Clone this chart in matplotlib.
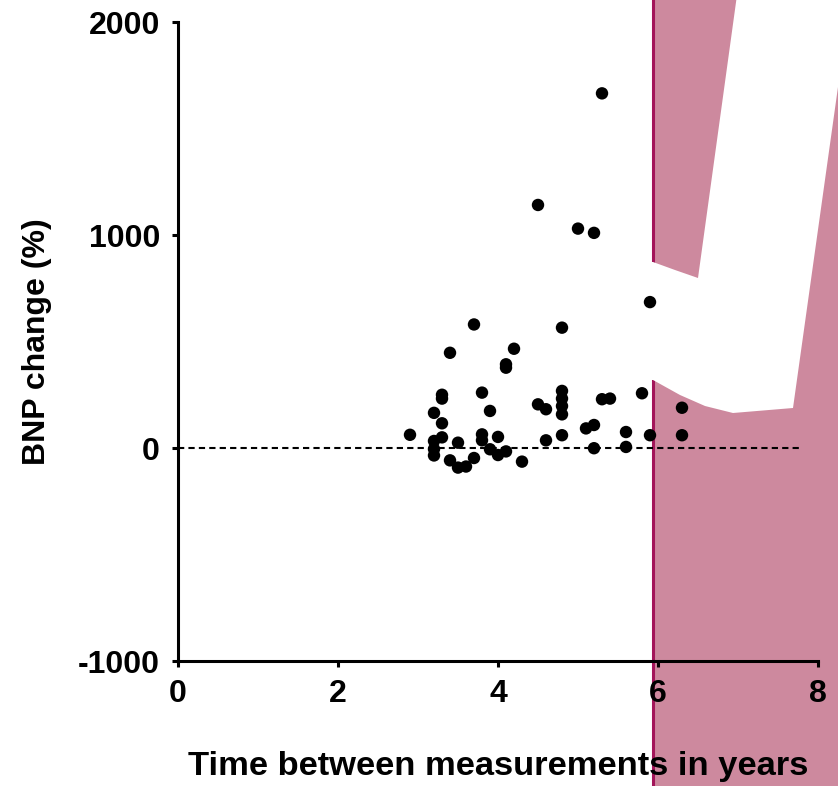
import matplotlib.pyplot as plt
from matplotlib.patches import Rectangle, Polygon
from matplotlib.lines import Line2D

# data
years = [2.9, 3.2, 3.2, 3.2, 3.2, 3.3, 3.3, 3.3, 3.3, 3.4, 3.4, 3.5, 3.5,
         3.6, 3.7, 3.7, 3.8, 3.8, 3.8, 3.9, 3.9, 4.0, 4.0, 4.1, 4.1, 4.1,
         4.2, 4.3, 4.5, 4.5, 4.6, 4.6, 4.8, 4.8, 4.8, 4.8, 4.8, 4.8, 5.0,
         5.1, 5.2, 5.2, 5.2, 5.3, 5.3, 5.4, 5.6, 5.6, 5.8, 5.9, 5.9, 6.3, 6.3]
bnp_change = [62, 165, 33, -5, -35, 250, 232, 116, 50, 447, -58, 25, -92,
              -87, 580, -47, 260, 64, 36, 174, -6, 52, -33, 393, 377, -16,
              466, -64, 1141, 205, 182, 36, 565, 268, 232, 197, 158, 60, 1030,
              92, 1010, 108, -1, 1665, 229, 232, 75, 5, 257, 685, 60, 189, 60]

x_ticks = [0, 2, 4, 6, 8]
y_ticks = [-1000, 0, 1000, 2000]

W, H = 838, 786
plt.rcParams['font.family'] = ['Liberation Sans', 'DejaVu Sans']
plt.rcParams['axes.unicode_minus'] = False
fig = plt.figure(figsize=(W / 100, H / 100), dpi=100)

# shaded band on the right (figure coordinates, pixels -> fraction)
band_left = 653 / W
fig.patches.append(Rectangle((band_left, 0), 1 - band_left, 1, transform=fig.transFigure,
                             facecolor='#cd899e', edgecolor='none', zorder=-3))
fig.lines.append(Line2D([band_left, band_left], [0, 1], transform=fig.transFigure,
                        color='#a3155a', lw=2.2, zorder=-2))

# white cut-out shape over the band
shape_px = [(737, -5), (698, 278), (675, 270), (653, 262), (648, 262), (648, 380),
            (653, 380), (680, 395), (705, 406), (733, 413), (793, 408),
            (838, 87), (850, -5)]
fig.patches.append(Polygon([(x / W, 1 - y / H) for x, y in shape_px], closed=True,
                           transform=fig.transFigure, facecolor='white',
                           edgecolor='none', zorder=-1))

ax = fig.add_axes([178 / W, 1 - 661 / H, 640 / W, 639 / H])
ax.set_facecolor('none')

ax.plot([0, 7.8], [0, 0], color='black', lw=1.5, linestyle=(0, (3, 2)), zorder=2)
ax.scatter(years, bnp_change, s=80, color='black', edgecolors='none', zorder=3)

ax.set_xlim(0, 8)
ax.set_ylim(-1000, 2000)
ax.set_xticks(x_ticks)
ax.set_yticks(y_ticks)

for side in ['top', 'right']:
    ax.spines[side].set_visible(False)
for side in ['left', 'bottom']:
    ax.spines[side].set_linewidth(2.2)
    ax.spines[side].set_capstyle('projecting')

ax.tick_params(axis='both', direction='out', length=4, width=2.2, labelsize=23, pad=9)
for lbl in ax.get_xticklabels() + ax.get_yticklabels():
    lbl.set_fontweight('bold')

ax.set_xlabel('Time between measurements in years', fontsize=24.8, fontweight='bold', labelpad=30)
ax.set_ylabel('BNP change (%)', fontsize=23, fontweight='bold', labelpad=19)

plt.savefig('out.png', dpi=100)
